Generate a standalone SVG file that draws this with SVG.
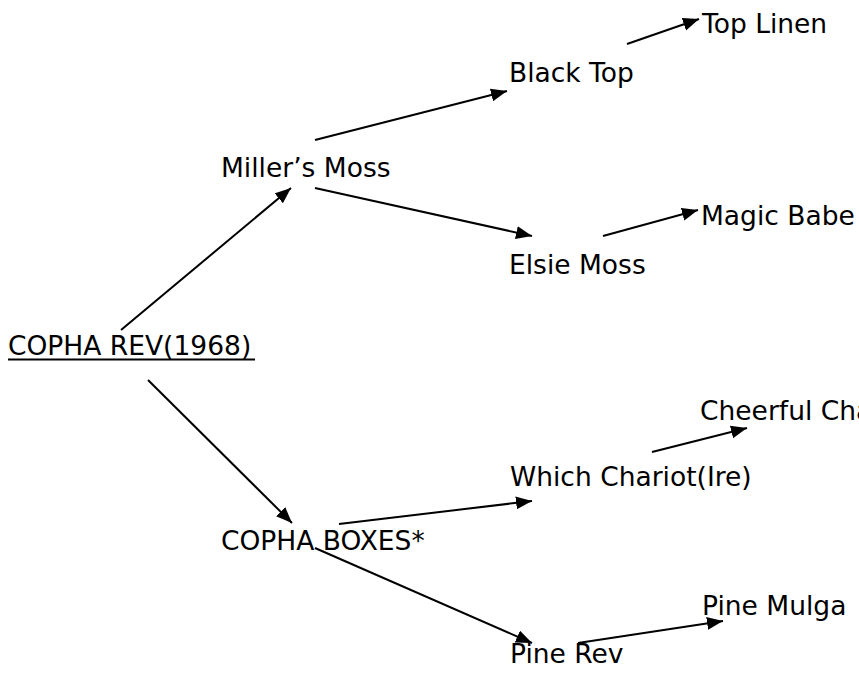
<svg xmlns="http://www.w3.org/2000/svg" width="859" height="677" viewBox="0 0 859 677">
<style>
text{font-family:"DejaVu Sans",Verdana,sans-serif;font-size:26.5px;fill:#000}
.c line{stroke:#000;stroke-width:2;marker-end:url(#ah)}
</style>
<defs>
<marker id="ah" markerUnits="userSpaceOnUse" markerWidth="17" markerHeight="14" refX="16" refY="6.5" orient="auto">
<path d="M0,0 L16,6.5 L0,13 z" fill="#000"/>
</marker>
</defs>
<rect width="859" height="677" fill="#fff"/>
<g id="connectors" class="c">
<line x1="121" y1="330" x2="291" y2="188"/>
<line x1="315" y1="140" x2="507" y2="91"/>
<line x1="315" y1="188" x2="532" y2="236"/>
<line x1="627" y1="44" x2="699" y2="19"/>
<line x1="603" y1="236" x2="698" y2="210"/>
<line x1="148" y1="380" x2="292" y2="523"/>
<line x1="339" y1="524" x2="532" y2="501"/>
<line x1="315" y1="548" x2="532" y2="643"/>
<line x1="652" y1="452" x2="747" y2="428"/>
<line x1="578" y1="643" x2="723" y2="621"/>
</g>
<g id="n-copha-rev"><text x="8" y="355">COPHA REV(1968)</text><line x1="8" y1="359.5" x2="255" y2="359.5" stroke="#000" stroke-width="2"/></g>
<g id="n-millers-moss"><text x="221" y="177">Miller’s Moss</text></g>
<g id="n-black-top"><text x="509" y="82">Black Top</text></g>
<g id="n-top-linen"><text x="702" y="33">Top Linen</text></g>
<g id="n-elsie-moss"><text x="509" y="274">Elsie Moss</text></g>
<g id="n-magic-babe"><text x="701" y="225">Magic Babe</text></g>
<g id="n-copha-boxes"><text x="221" y="550">COPHA BOXES*</text></g>
<g id="n-which-chariot"><text x="510" y="486">Which Chariot(Ire)</text></g>
<g id="n-cheerful"><text x="700" y="420">Cheerful Cha</text></g>
<g id="n-pine-rev"><text x="510" y="663">Pine Rev</text></g>
<g id="n-pine-mulga"><text x="702" y="615">Pine Mulga</text></g>
</svg>
